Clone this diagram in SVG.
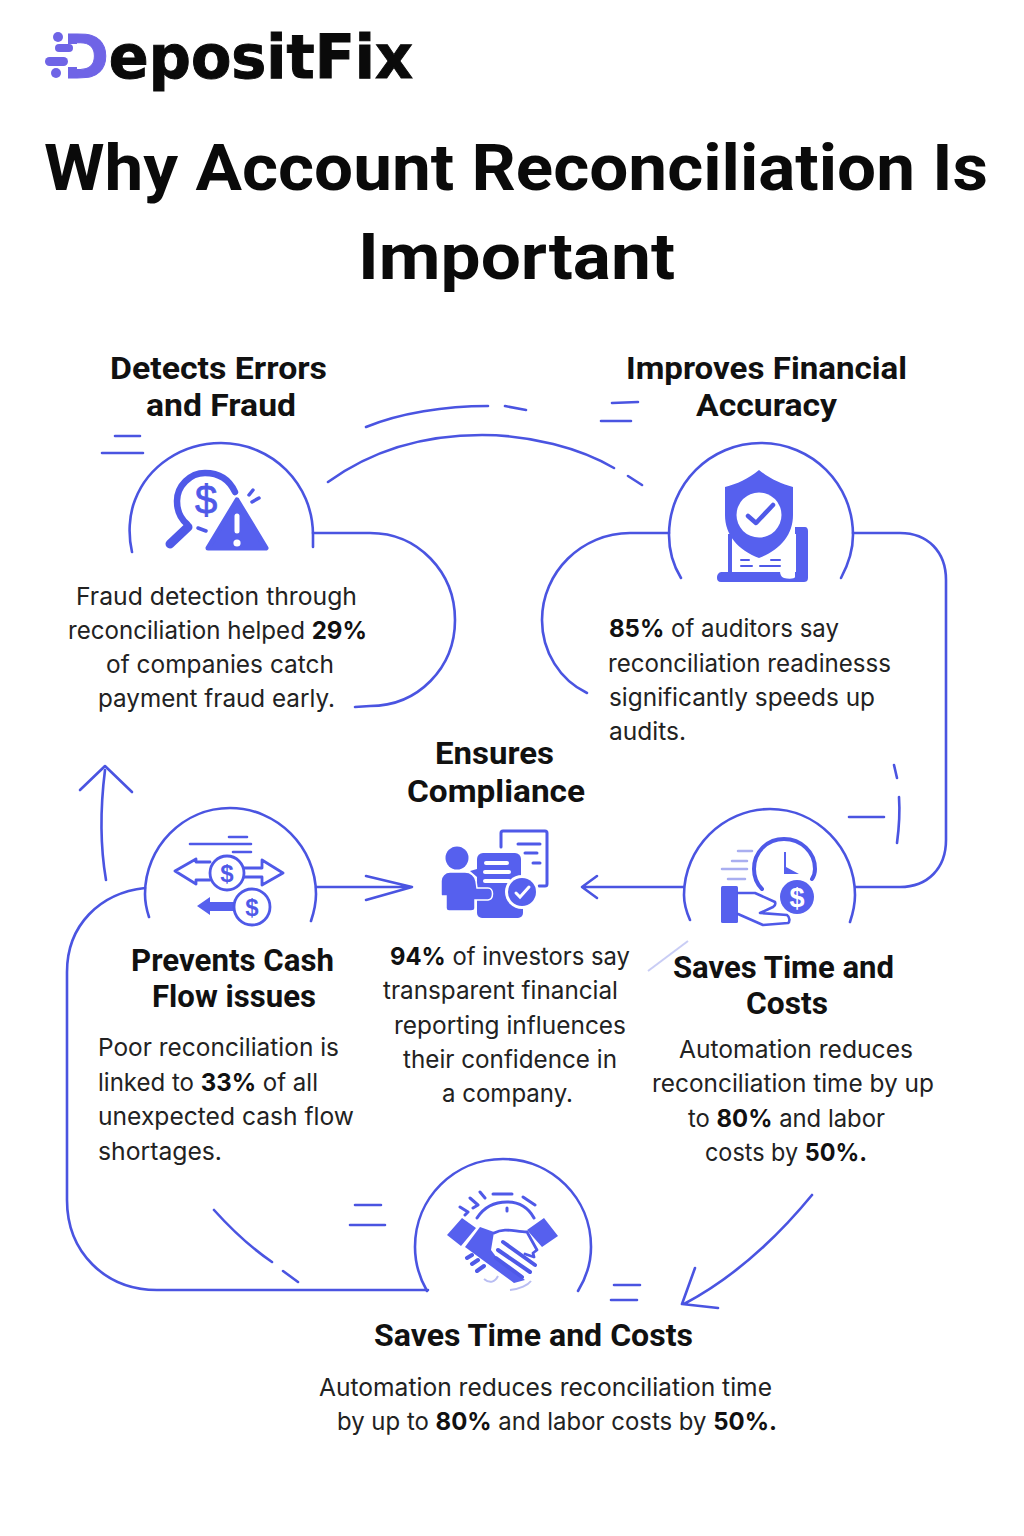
<svg xmlns="http://www.w3.org/2000/svg" width="1024" height="1536" viewBox="0 0 1024 1536">
<style>
.t{font-family:Roboto,"Liberation Sans",sans-serif;font-weight:700;font-size:64.5px;fill:#0a0a0a}
.h{font-family:Roboto,"Liberation Sans",sans-serif;font-weight:700;font-size:32px;fill:#111}
.b{font-family:Inter,"Liberation Sans",sans-serif;font-weight:400;font-size:24.5px;fill:#222}
.b tspan{font-weight:700;fill:#111}
.l{fill:none;stroke:#4a54e1;stroke-width:2.6;stroke-linecap:round;stroke-linejoin:round}
.f{fill:#5660ee}
.s{fill:none;stroke:#4f59e8;stroke-linecap:round;stroke-linejoin:round}
.w{fill:none;stroke:#fff;stroke-linecap:round}
.d{font-family:"Liberation Sans",sans-serif;font-weight:700;text-anchor:middle}
</style>
<rect width="1024" height="1536" fill="#fff"/>
<g id="logo">
<text x="60" y="78" font-family="DejaVu Sans" font-weight="700" font-size="61" fill="#0a0a0a" stroke="#0a0a0a" stroke-width="1" textLength="353" lengthAdjust="spacingAndGlyphs"><tspan fill="#6f64e6" stroke="#6f64e6">D</tspan>epositFix</text>
<rect x="44" y="30" width="24" height="50" fill="#fff"/>
<rect x="66" y="44" width="14" height="23" fill="#fff"/>
<g fill="#6f64e6"><circle cx="58" cy="37" r="5"/><rect x="55" y="44" width="18" height="8" rx="4"/><rect x="45" y="57" width="23" height="9" rx="4.5"/><circle cx="56" cy="73" r="5"/></g>
</g>
<g id="title">
<text class="t" x="44" y="190" textLength="944" lengthAdjust="spacingAndGlyphs">Why Account Reconciliation Is</text>
<text class="t" x="358" y="279" textLength="317" lengthAdjust="spacingAndGlyphs">Important</text>
</g>
<g id="connectors">
<path class="l" d="M313 533H370C418 533 455 572 455 620C455 668 418 706 370 706L355 707"/>
<path class="l" d="M669 533H630C582 533 542 572 542 620C542 652 560 680 587 693"/>
<path class="l" d="M853 533H900C928 533 946 552 946 580V840C946 868 928 887 900 887H855"/>
<path class="l" d="M684 887H583M597 876L582 887L597 898"/>
<path class="l" d="M316 887H410M366 876L412 887L366 900"/>
<path class="l" d="M145 888C100 893 67 925 67 972V1200C67 1252 105 1290 157 1290H428"/>
<path class="l" d="M106 880C100 845 100 810 105 770M80 790L105 766L132 792"/>
<path class="l" d="M366 427C400 413 445 406 488 406M505 406L526 410"/>
<path class="l" d="M328 482C375 448 430 435 482 435C530 435 580 448 614 468M628 476L642 485"/>
<path class="l" d="M612 403L638 402M601 421H631M115 436H140M102 453H143"/>
<path class="l" d="M894 765L897 778M899 797C900 812 899 828 897 843M849 817H884"/>
<path class="l" d="M812 1195C775 1240 735 1277 684 1304M695 1268L682 1304L718 1308"/>
<path class="l" d="M614 1285H640M611 1300H637M355 1205H381M350 1225H385"/>
<path class="l" d="M214 1210C232 1230 250 1247 272 1262M283 1271L298 1282"/>
<path d="M648 971L688 941" stroke="#c9cdf5" stroke-width="2" fill="none"/>
</g>
<g id="node-detects">
<path class="l" d="M132 552C128 535 129 515 135 500C148 466 182 443 221 443C272 443 313 484 313 535V547"/>
<path class="s" stroke-width="6.5" d="M235 492C229 479 218 473 205 473C190 473 177 486 177 501C177 511 181 519 187 524"/>
<path class="s" stroke-width="9" d="M188 527L170 544"/>
<path class="s" stroke-width="3.5" d="M198 528L206 531M249 495L253 490M252 502L259 498"/>
<path class="f" stroke="#5660ee" stroke-width="5" stroke-linejoin="round" d="M237 500L266 548H208Z"/>
<path class="w" stroke-width="5" d="M237 516V531"/><circle cx="237" cy="543" r="3.6" fill="#fff"/>
<text x="206" y="514" font-family="Liberation Sans" font-size="40" text-anchor="middle" fill="#4f59e8" stroke="#4f59e8" stroke-width="0.8">$</text>
<text class="h" x="110" y="379" textLength="217" lengthAdjust="spacingAndGlyphs">Detects Errors</text>
<text class="h" x="146" y="416" textLength="150" lengthAdjust="spacingAndGlyphs">and Fraud</text>
<text class="b" x="76" y="605" textLength="281" lengthAdjust="spacingAndGlyphs">Fraud detection through</text>
<text class="b" x="68" y="639" textLength="299" lengthAdjust="spacingAndGlyphs">reconciliation helped <tspan>29%</tspan></text>
<text class="b" x="106" y="673" textLength="228" lengthAdjust="spacingAndGlyphs">of companies catch</text>
<text class="b" x="98" y="707" textLength="237" lengthAdjust="spacingAndGlyphs">payment fraud early.</text>
</g>
<g id="node-accuracy">
<path class="l" d="M681 578C673 565 669 550 669 535C669 484 710 443 761 443C812 443 853 484 853 535C853 550 848 565 841 578"/>
<path class="f" d="M717 578C717 573 720 572 722 572H728V534H732V571H795V527H805C807 527 808 529 808 531V578C808 581 806 582 804 582H721C718 582 717 580 717 578Z"/>
<path d="M732 572V534H796V572Z" fill="#fff"/>
<path d="M780 571H795V577C795 579 788 579 784 578C781 577 780 574 780 571Z" fill="#fff"/>
<path class="f" d="M759 470C770 479 781 484 793 487V515C793 535 780 550 759 558C738 550 725 535 725 515V487C737 484 748 479 759 470Z"/>
<circle cx="759" cy="515" r="22.5" fill="#fff"/>
<path class="s" stroke-width="4.5" d="M748 516L756 523L773 505"/>
<path class="s" stroke-width="2" d="M741 560H749M771 560H780M741 566H752M760 566H780"/>
<text class="h" x="626" y="379" textLength="281" lengthAdjust="spacingAndGlyphs">Improves Financial</text>
<text class="h" x="696" y="416" textLength="141" lengthAdjust="spacingAndGlyphs">Accuracy</text>
<text class="b" x="609" y="637" textLength="230" lengthAdjust="spacingAndGlyphs"><tspan>85%</tspan> of auditors say</text>
<text class="b" x="608" y="672" textLength="283" lengthAdjust="spacingAndGlyphs">reconciliation readinesss</text>
<text class="b" x="609" y="706" textLength="266" lengthAdjust="spacingAndGlyphs">significantly speeds up</text>
<text class="b" x="609" y="740" textLength="77" lengthAdjust="spacingAndGlyphs">audits.</text>
</g>
<g id="node-cash">
<path class="l" d="M149 917C146 908 145 902 145 894C145 847 183 808 230 808C277 808 316 847 316 894C316 903 314 912 311 921"/>
<path class="s" stroke-width="2.6" d="M229 837H247M190 844H251M233 852H251"/>
<path class="s" stroke-width="2.8" d="M210 862H196V859L175 871L196 884V880H210M244 868H262V860L283 873L262 885V877H244"/>
<circle cx="227" cy="873" r="17" fill="#fff" stroke="#4f59e8" stroke-width="2.8"/>
<text class="d" x="227" y="882" font-size="24" fill="#4f59e8">$</text>
<path class="f" d="M197 906L210 897V902H236V911H210V915Z"/>
<circle cx="252" cy="907" r="18" fill="#fff" stroke="#4f59e8" stroke-width="2.8"/>
<text class="d" x="252" y="916" font-size="24" fill="#4f59e8">$</text>
<text class="h" x="131" y="971" textLength="203" lengthAdjust="spacingAndGlyphs">Prevents Cash</text>
<text class="h" x="152" y="1007" textLength="164" lengthAdjust="spacingAndGlyphs">Flow issues</text>
<text class="b" x="98" y="1056" textLength="241" lengthAdjust="spacingAndGlyphs">Poor reconciliation is</text>
<text class="b" x="98" y="1091" textLength="220" lengthAdjust="spacingAndGlyphs">linked to <tspan>33%</tspan> of all</text>
<text class="b" x="98" y="1125" textLength="256" lengthAdjust="spacingAndGlyphs">unexpected cash flow</text>
<text class="b" x="98" y="1160" textLength="124" lengthAdjust="spacingAndGlyphs">shortages.</text>
</g>
<g id="node-compliance">
<path class="s" stroke-width="3" d="M501 847V833C501 831 502 831 503 831H545C547 831 547 832 547 833V884C547 886 546 886 545 886H539"/>
<path class="s" stroke-width="3" d="M518 844H540M525 853H537M533 863H540"/>
<rect class="f" x="477" y="853" width="44" height="40" rx="6"/>
<path class="f" d="M477 869L470 871L477 877Z"/>
<rect class="f" x="477" y="888" width="46" height="30" rx="5"/>
<path class="w" stroke-width="4" d="M486 863H507M485 872H509M485 881H509"/>
<circle class="f" cx="457" cy="858" r="11.5"/>
<path class="f" stroke="#fff" stroke-width="1.5" d="M450 872H465C471 872 475 876 476 881L477 888H488C494 888 494 899 488 900H475V908C475 910 473 911 471 911H449C447 911 446 910 446 908V896H442C441 896 441 895 441 893V881C441 876 445 872 450 872Z"/>
<circle cx="522" cy="892" r="17" fill="#fff"/>
<circle class="f" cx="522" cy="892" r="14"/>
<path class="w" stroke-width="3" d="M516 893L520 897L529 887"/>
<text class="h" x="435" y="764" textLength="119" lengthAdjust="spacingAndGlyphs">Ensures</text>
<text class="h" x="407" y="802" textLength="178" lengthAdjust="spacingAndGlyphs">Compliance</text>
<text class="b" x="390" y="965" textLength="240" lengthAdjust="spacingAndGlyphs"><tspan>94%</tspan> of investors say</text>
<text class="b" x="383" y="999" textLength="235" lengthAdjust="spacingAndGlyphs">transparent financial</text>
<text class="b" x="394" y="1034" textLength="232" lengthAdjust="spacingAndGlyphs">reporting influences</text>
<text class="b" x="403" y="1068" textLength="214" lengthAdjust="spacingAndGlyphs">their confidence in</text>
<text class="b" x="442" y="1102" textLength="131" lengthAdjust="spacingAndGlyphs">a company.</text>
</g>
<g id="node-time">
<path class="l" d="M690 920C686 911 684 903 684 895C684 848 723 809 770 809C817 809 855 848 855 895C855 904 853 913 850 922"/>
<path class="s" stroke-width="4" d="M762 889C756 883 754 875 754 869C754 852 767 839 784 839C801 839 815 852 815 869C815 873 814 876 812 879"/>
<path class="f" d="M784 852H786V867L799 874H784Z"/>
<path d="M738 851H752M732 861H747M722 869H747M728 879H745" stroke="#a9aef0" stroke-width="2.5" stroke-linecap="round" fill="none"/>
<rect class="f" x="721" y="886" width="17" height="37" rx="1.5"/>
<path class="s" stroke-width="2.6" d="M738 893H755L775 902C776 905 775 906 773 907L760 913L787 915C790 917 790 922 788 923L763 925L738 914"/>
<circle class="f" cx="797" cy="897" r="17"/>
<text class="d" x="797" y="907" font-size="27" fill="#fff">$</text>
<text class="h" x="673" y="978" textLength="221" lengthAdjust="spacingAndGlyphs">Saves Time and</text>
<text class="h" x="746" y="1014" textLength="82" lengthAdjust="spacingAndGlyphs">Costs</text>
<text class="b" x="679" y="1058" textLength="234" lengthAdjust="spacingAndGlyphs">Automation reduces</text>
<text class="b" x="652" y="1092" textLength="282" lengthAdjust="spacingAndGlyphs">reconciliation time by up</text>
<text class="b" x="688" y="1127" textLength="197" lengthAdjust="spacingAndGlyphs">to <tspan>80%</tspan> and labor</text>
<text class="b" x="705" y="1161" textLength="162" lengthAdjust="spacingAndGlyphs">costs by <tspan>50%.</tspan></text>
</g>
<g id="node-savings">
<path class="l" d="M427 1291C419 1277 415 1263 415 1247C415 1198 454 1159 503 1159C552 1159 591 1198 591 1247C591 1263 586 1278 578 1291"/>
<path class="s" stroke-width="3" d="M460 1207L468 1212L465 1215M470 1198L478 1205L473 1208M480 1192L485 1198M493 1194H512M523 1197L535 1205M477 1218C484 1207 495 1202 507 1202C518 1202 528 1207 534 1218M507 1208V1211"/>
<path class="f" d="M462 1218L476 1228L461 1246L447 1235Z M544 1218L558 1236L542 1247L527 1230Z"/>
<path class="f" d="M480 1227L494 1232L491 1250L497 1258L525 1280L514 1283L465 1247Z"/>
<path class="s" stroke-width="2.8" d="M494 1233C505 1227 515 1232 527 1232L537 1250L533 1253L534 1257L525 1254"/>
<path class="s" stroke-width="4" d="M503 1242L535 1265M498 1250L530 1272M496 1258L522 1277M467 1258L472 1255M472 1264L478 1260M477 1271L484 1266"/>
<path d="M484 1279C490 1284 495 1282 498 1276M510 1290C520 1289 528 1285 531 1281" fill="none" stroke="#b9bdf2" stroke-width="2"/>
<text class="h" x="374" y="1346" textLength="319" lengthAdjust="spacingAndGlyphs">Saves Time and Costs</text>
<text class="b" x="319" y="1396" textLength="453" lengthAdjust="spacingAndGlyphs">Automation reduces reconciliation time</text>
<text class="b" x="337" y="1430" textLength="440" lengthAdjust="spacingAndGlyphs">by up to <tspan>80%</tspan> and labor costs by <tspan>50%.</tspan></text>
</g>
</svg>
